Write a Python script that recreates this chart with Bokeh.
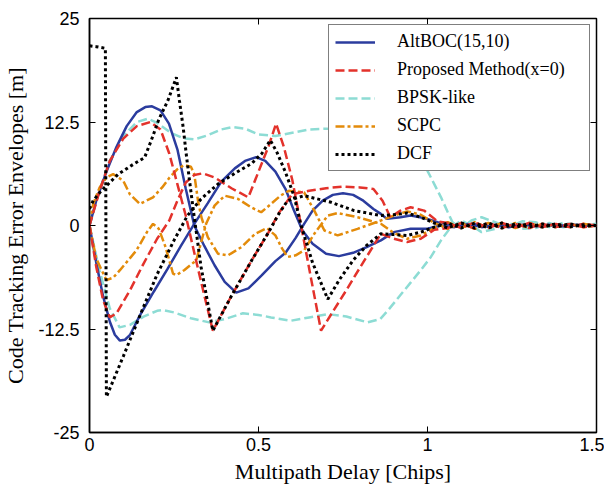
from bokeh.plotting import figure
from bokeh.models import Range1d, LinearAxis, FixedTicker, Legend, LegendItem
from bokeh.embed import file_html
from bokeh.resources import INLINE

# ---------------- data ----------------
x_ticks = [0, 0.5, 1, 1.5]
x_tick_labels = ["0", "0.5", "1", "1.5"]
y_ticks = [-25, -12.5, 0, 12.5, 25]
y_tick_labels = ["-25", "-12.5", "0", "12.5", "25"]

series_names = ["AltBOC(15,10)", "Proposed Method(x=0)", "BPSK-like", "SCPC", "DCF"]

altboc_up_x = [0, 0.02, 0.05, 0.08, 0.11, 0.14, 0.165, 0.185, 0.21, 0.235, 0.26, 0.285, 0.31, 0.34, 0.37, 0.40, 0.434, 0.47, 0.51, 0.55, 0.58, 0.61, 0.635, 0.66, 0.69, 0.72, 0.75, 0.78, 0.81, 0.84, 0.862, 0.88, 0.92, 0.95, 0.99, 1.03, 1.06, 1.1, 1.14, 1.18, 1.22, 1.26, 1.3, 1.34, 1.38, 1.42, 1.46, 1.5]
altboc_up_y = [0, 3.0, 6.5, 9.5, 12.0, 13.7, 14.3, 14.4, 13.9, 12.3, 9.2, 4.4, 0.0, -2.5, -4.8, -6.8, -8.1, -7.6, -6.0, -4.3, -3.3, -1.5, 0.2, 1.8, 3.0, 3.7, 3.9, 3.7, 3.0, 2.0, 1.4, 0.8, 1.0, 1.2, 0.9, 0.4, 0.2, -0.2, 0.2, -0.2, 0.2, -0.1, 0.15, -0.1, 0.1, -0.1, 0.1, 0.0]
altboc_lo_x = [0, 0.02, 0.04, 0.06, 0.075, 0.09, 0.105, 0.12, 0.15, 0.19, 0.23, 0.27, 0.31, 0.35, 0.39, 0.43, 0.46, 0.493, 0.52, 0.55, 0.58, 0.605, 0.63, 0.66, 0.7, 0.738, 0.78, 0.82, 0.862, 0.9, 0.95, 1.0, 1.04, 1.08, 1.12, 1.16, 1.2, 1.24, 1.28, 1.32, 1.36, 1.4, 1.44, 1.48, 1.5]
altboc_lo_y = [0, -4.5, -8.5, -11.6, -13.2, -13.9, -13.8, -13.2, -10.8, -8.0, -5.3, -2.5, 0.2, 2.7, 5.3, 6.9, 7.8, 8.25, 7.8, 6.5, 4.4, 1.8, -0.6, -2.2, -3.4, -3.7, -3.3, -2.6, -1.8, -0.8, -0.4, -0.4, 0.0, -0.2, 0.2, -0.2, 0.1, -0.2, 0.1, -0.1, 0.1, -0.1, 0.1, -0.05, 0.0]

proposed_up_x = [0, 0.03, 0.06, 0.1, 0.14, 0.18, 0.21, 0.236, 0.26, 0.286, 0.31, 0.34, 0.365, 0.42, 0.48, 0.53, 0.56, 0.6, 0.65, 0.7, 0.75, 0.8, 0.84, 0.867, 0.89, 0.92, 0.95, 0.99, 1.03, 1.06, 1.1, 1.14, 1.18, 1.22, 1.26, 1.3, 1.34, 1.38, 1.42, 1.46, 1.5]
proposed_up_y = [0, 4.2, 7.8, 10.5, 12.0, 12.5, 11.6, 8.7, 5.0, 1.0, -3.3, -8.5, -12.7, -8.5, -4.2, -0.8, 1.5, 3.8, 4.2, 4.5, 4.7, 4.6, 4.4, 3.0, 1.0, 1.8, 2.2, 1.8, 0.5, 0.3, -0.3, 0.4, -0.3, 0.3, -0.2, 0.3, -0.2, 0.2, -0.2, 0.2, 0.0]
proposed_lo_x = [0, 0.02, 0.04, 0.06, 0.08, 0.12, 0.16, 0.2, 0.236, 0.26, 0.285, 0.31, 0.335, 0.37, 0.42, 0.47, 0.5, 0.53, 0.552, 0.575, 0.6, 0.626, 0.655, 0.685, 0.72, 0.76, 0.8, 0.862, 0.9, 0.94, 0.98, 1.02, 1.06, 1.1, 1.14, 1.18, 1.22, 1.26, 1.3, 1.34, 1.38, 1.42, 1.46, 1.5]
proposed_lo_y = [0, -5.0, -9.0, -11.1, -10.6, -7.8, -4.6, -1.6, 0.6, 3.0, 5.2, 6.1, 6.3, 5.8, 4.5, 3.4, 6.5, 9.6, 12.3, 9.5, 5.5, 0.0, -6.3, -12.7, -10.4, -7.8, -5.1, -1.0, -1.6, -2.0, -1.6, -0.5, -0.3, 0.3, -0.4, 0.3, -0.3, 0.2, -0.3, 0.2, -0.2, 0.2, -0.2, 0.0]

bpsk_up_x = [0, 0.03, 0.06, 0.1, 0.14, 0.173, 0.2, 0.24, 0.28, 0.31, 0.35, 0.39, 0.424, 0.46, 0.5, 0.55, 0.6, 0.65, 0.7, 0.76, 0.82, 0.87, 0.91, 0.95, 0.98, 1.0, 1.02, 1.04, 1.06, 1.074, 1.1, 1.13, 1.16, 1.2, 1.24, 1.28, 1.32, 1.36, 1.4, 1.45, 1.5]
bpsk_up_y = [0, 4.3, 7.8, 10.8, 12.5, 12.9, 12.4, 11.2, 10.5, 10.4, 10.9, 11.6, 11.9, 11.7, 11.0, 10.8, 11.2, 11.6, 11.7, 11.6, 11.3, 10.8, 10.3, 9.0, 7.8, 6.6, 5.0, 3.4, 1.6, 0.4, -0.3, 0.6, 1.0, 0.4, -0.2, 0.5, 0.4, -0.2, 0.3, 0.0, 0.2]
bpsk_lo_x = [0, 0.03, 0.06, 0.089, 0.12, 0.16, 0.2, 0.217, 0.25, 0.3, 0.354, 0.4, 0.454, 0.5, 0.537, 0.596, 0.65, 0.705, 0.76, 0.823, 0.86, 0.882, 0.92, 0.95, 0.98, 1.01, 1.04, 1.069, 1.1, 1.13, 1.16, 1.2, 1.24, 1.28, 1.32, 1.36, 1.4, 1.45, 1.5]
bpsk_lo_y = [0, -5.5, -10.0, -12.3, -12.0, -11.0, -10.3, -10.2, -10.5, -11.2, -11.7, -11.3, -10.6, -10.8, -11.1, -11.5, -11.1, -10.7, -11.0, -11.7, -11.3, -10.3, -8.4, -6.9, -5.4, -3.8, -1.8, -0.2, 0.6, 0.0, -0.8, -0.4, 0.3, -0.4, -0.3, 0.3, -0.2, 0.1, 0.0]

scpc_up_x = [0, 0.011, 0.03, 0.05, 0.07, 0.1, 0.119, 0.149, 0.188, 0.215, 0.237, 0.26, 0.28, 0.3, 0.31, 0.321, 0.331, 0.35, 0.38, 0.41, 0.45, 0.49, 0.525, 0.55, 0.57, 0.586, 0.61, 0.635, 0.665, 0.705, 0.734, 0.793, 0.862, 0.9, 0.94, 0.98, 1.02, 1.06, 1.1, 1.14, 1.18, 1.22, 1.26, 1.3, 1.34, 1.38, 1.42, 1.46, 1.5]
scpc_up_y = [0, 2.6, 4.6, 5.8, 6.2, 5.4, 3.8, 2.6, 3.4, 4.6, 5.8, 6.8, 7.3, 7.1, 6.2, 3.0, 1.0, -1.4, -3.4, -3.6, -2.6, -1.0, -0.3, -1.2, -2.8, -3.8, -3.6, -3.0, -1.0, 1.2, 1.5, 1.0, 0.2, -0.9, -1.6, -1.2, -0.3, 0.4, -0.3, 0.4, -0.3, 0.3, -0.3, 0.3, -0.2, 0.2, -0.2, 0.2, 0.0]
scpc_lo_x = [0, 0.02, 0.05, 0.07, 0.09, 0.139, 0.17, 0.188, 0.205, 0.225, 0.247, 0.257, 0.28, 0.316, 0.345, 0.37, 0.4, 0.44, 0.478, 0.508, 0.537, 0.565, 0.59, 0.635, 0.665, 0.695, 0.734, 0.793, 0.862, 0.9, 0.94, 0.98, 1.02, 1.06, 1.1, 1.14, 1.18, 1.22, 1.26, 1.3, 1.34, 1.38, 1.42, 1.46, 1.5]
scpc_lo_y = [0, -4.0, -6.6, -6.3, -5.4, -3.0, -0.8, 0.2, -0.4, -2.6, -5.8, -6.0, -5.4, -4.2, 0.2, 2.4, 3.6, 3.2, 2.2, 1.6, 2.6, 3.6, 4.2, 4.0, 1.8, -0.6, -1.2, -0.4, 0.6, 1.2, 1.7, 1.3, 0.3, -0.4, 0.3, -0.4, 0.3, -0.3, 0.3, -0.3, 0.2, -0.2, 0.2, -0.2, 0.0]

dcf_up_x = [0, 0.02, 0.047, 0.05, 0.1, 0.15, 0.2, 0.25, 0.29, 0.33, 0.38, 0.43, 0.48, 0.51, 0.535, 0.555, 0.58, 0.605, 0.626, 0.66, 0.705, 0.74, 0.78, 0.82, 0.862, 0.9, 0.94, 0.98, 1.02, 1.06, 1.1, 1.14, 1.18, 1.22, 1.26, 1.3, 1.34, 1.38, 1.42, 1.46, 1.5]
dcf_up_y = [21.7, 21.6, 21.4, -20.7, -15.8, -10.8, -5.9, -1.8, 1.2, 3.2, 5.0, 6.3, 7.5, 8.7, 10.3, 8.8, 6.4, 3.6, 0.0, -4.5, -8.9, -6.5, -4.2, -2.4, -1.0, -1.1, -1.2, -0.8, -0.2, 0.3, -0.3, 0.3, -0.3, 0.3, -0.2, 0.2, -0.2, 0.2, -0.2, 0.1, 0.0]
dcf_lo_x = [0, 0.011, 0.035, 0.085, 0.13, 0.163, 0.183, 0.205, 0.232, 0.257, 0.266, 0.277, 0.286, 0.296, 0.306, 0.33, 0.365, 0.42, 0.48, 0.53, 0.56, 0.586, 0.635, 0.715, 0.783, 0.862, 0.9, 0.94, 0.98, 1.02, 1.06, 1.1, 1.14, 1.18, 1.22, 1.26, 1.3, 1.34, 1.38, 1.42, 1.46, 1.5]
dcf_lo_y = [2.0, 3.0, 4.2, 6.2, 7.4, 8.2, 10.3, 12.8, 15.1, 17.9, 15.1, 11.9, 8.7, 5.4, 2.2, -5.0, -12.7, -8.5, -4.2, -0.8, 1.4, 3.0, 3.6, 2.8, 1.8, 1.2, 1.3, 1.5, 1.0, 0.3, -0.3, 0.3, -0.3, 0.3, -0.3, 0.2, -0.2, 0.2, -0.2, 0.2, -0.1, 0.0]

# ---------------- figure ----------------
p = figure(width=604, height=486, x_range=Range1d(0, 1.5), y_range=Range1d(-25, 25),
           output_backend="svg", toolbar_location=None,
           min_border_left=88, min_border_right=8, min_border_top=18, min_border_bottom=54)
p.xgrid.visible = False
p.ygrid.visible = False
p.outline_line_color = "black"
p.outline_line_width = 1.5
p.background_fill_color = "white"

TICK_FONT = "Liberation Sans"
LABEL_FONT = "Liberation Serif"

xa = p.xaxis[0]
xa.ticker = FixedTicker(ticks=x_ticks)
xa.major_label_overrides = dict(zip(x_ticks, x_tick_labels))
xa.axis_label = "Multipath Delay [Chips]"
xa.major_label_standoff = 5
xa.axis_label_standoff = 5

ya = p.yaxis[0]
ya.ticker = FixedTicker(ticks=y_ticks)
ya.major_label_overrides = dict(zip(y_ticks, y_tick_labels))
ya.axis_label = "Code Tracking Error Envelopes [m]"
ya.major_label_standoff = 10
ya.axis_label_standoff = 7

for ax in (xa, ya):
    ax.major_label_text_font = TICK_FONT
    ax.major_label_text_font_size = "18px"
    ax.major_label_text_color = "black"
    ax.axis_label_text_font = LABEL_FONT
    ax.axis_label_text_font_size = "22px"
    ax.axis_label_text_font_style = "normal"
    ax.axis_label_text_color = "black"
    ax.major_tick_in = 6
    ax.major_tick_out = 0
    ax.minor_tick_line_color = None
    ax.axis_line_color = "black"
    ax.axis_line_width = 1.5
    ax.major_tick_line_color = "black"

right_axis = LinearAxis(ticker=FixedTicker(ticks=y_ticks),
                        major_label_overrides={t: "" for t in y_ticks},
                        major_label_standoff=0, major_tick_in=6, major_tick_out=0,
                        minor_tick_line_color=None, axis_line_color=None)
top_axis = LinearAxis(ticker=FixedTicker(ticks=x_ticks),
                      major_label_overrides={t: "" for t in x_ticks},
                      major_label_standoff=0, major_tick_in=6, major_tick_out=0,
                      minor_tick_line_color=None, axis_line_color=None)
p.add_layout(right_axis, "right")
p.add_layout(top_axis, "above")

# ---------------- curves ----------------
styles = {
    "bpsk": dict(line_color="#8ddcd4", line_width=2.5, line_dash="9 4"),
    "altboc": dict(line_color="#2b3c9e", line_width=2.5, line_dash="solid"),
    "scpc": dict(line_color="#e38b0a", line_width=2.5, line_dash="9 3 3 3"),
    "proposed": dict(line_color="#e3322b", line_width=2.5, line_dash="9 4"),
    "dcf": dict(line_color="black", line_width=3, line_dash="3 3"),
}
curves = {
    "bpsk": [(bpsk_up_x, bpsk_up_y), (bpsk_lo_x, bpsk_lo_y)],
    "altboc": [(altboc_up_x, altboc_up_y), (altboc_lo_x, altboc_lo_y)],
    "scpc": [(scpc_up_x, scpc_up_y), (scpc_lo_x, scpc_lo_y)],
    "proposed": [(proposed_up_x, proposed_up_y), (proposed_lo_x, proposed_lo_y)],
    "dcf": [(dcf_up_x, dcf_up_y), (dcf_lo_x, dcf_lo_y)],
}
renderers = {}
for key in ["bpsk", "altboc", "scpc", "proposed", "dcf"]:
    rs = []
    for xs, ys in curves[key]:
        rs.append(p.line(xs, ys, **styles[key]))
    renderers[key] = rs

order = ["altboc", "proposed", "bpsk", "scpc", "dcf"]
items = [LegendItem(label=name, renderers=[renderers[k][0]]) for name, k in zip(series_names, order)]
legend = Legend(items=items, location="top_right", margin=6, padding=6, spacing=7,
                glyph_width=40, glyph_height=20, label_height=20, label_width=186,
                label_standoff=22, border_line_color="black", border_line_width=1.5,
                background_fill_color="white", background_fill_alpha=1.0,
                label_text_font=LABEL_FONT, label_text_font_size="18px",
                label_text_color="black")
p.add_layout(legend)

open("out.html", "w").write(file_html(p, INLINE))
